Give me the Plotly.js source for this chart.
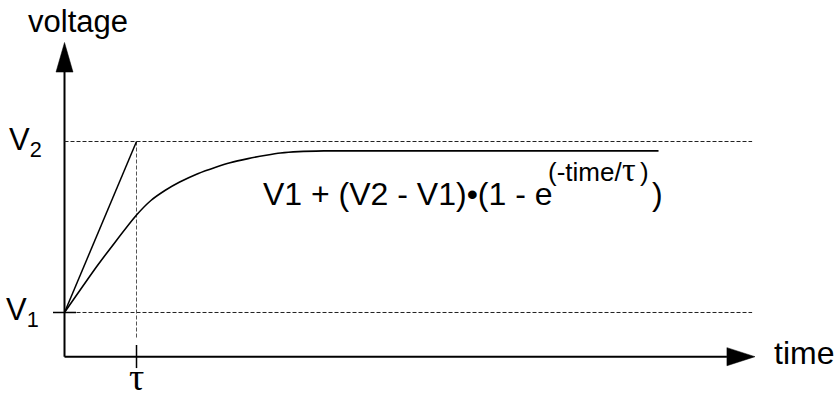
<!DOCTYPE html>
<html>
<head>
<meta charset="utf-8">
<script src="https://cdn.plot.ly/plotly-3.0.1.min.js"></script>
<style>
  html, body { margin: 0; padding: 0; background: #fff; }
  #chart { width: 836px; height: 397px; }
</style>
</head>
<body>
<div id="chart"></div>
<script>
// Time in units of tau, voltage normalised so V1 = 1 and V2 = 2.
const V1 = 1;
const V2 = 2;
const TAU = 1;

// Charging curve, read point by point.
const curveTime    = [0, 0.45, 0.70, 1.00, 1.20, 1.40, 1.60, 1.85, 2.10, 2.30, 2.55, 2.80, 3.00, 3.25, 3.60, 8.25];
const curveVoltage = [1, 1.27, 1.41, 1.57, 1.655, 1.715, 1.763, 1.812, 1.85, 1.876, 1.90, 1.92, 1.933, 1.941, 1.945, 1.945];

// Initial-slope tangent: reaches V2 at t = tau.
const tangentTime    = [0, TAU];
const tangentVoltage = [V1, V2];

// Drawing frame (data units).
const X_MIN = -0.896, X_MAX = 10.715;
const Y_MIN = 0.5058, Y_MAX = 2.8275;
const AXIS_V = 0.7415;        // level of the time axis
const AXIS_T_END = 9.20;      // start of the time arrowhead
const AXIS_T_TIP = 9.59;
const AXIS_V_END = 2.406;     // start of the voltage arrowhead
const AXIS_V_TIP = 2.579;
const GUIDE_END = 9.55;

const FONT = "Liberation Sans, Arial, Helvetica, sans-serif";
const SERIF = "Liberation Serif, DejaVu Serif, serif";
const black = "#000";

const traces = [
  // time axis
  { x: [0, AXIS_T_END], y: [AXIS_V, AXIS_V], mode: "lines",
    line: { color: black, width: 2 } },
  // voltage axis
  { x: [0, 0], y: [AXIS_V, AXIS_V_END], mode: "lines",
    line: { color: black, width: 2 } },
  // arrowheads
  { x: [AXIS_T_END, AXIS_T_TIP, AXIS_T_END, AXIS_T_END],
    y: [AXIS_V + 0.053, AXIS_V, AXIS_V - 0.053, AXIS_V + 0.053],
    mode: "lines", fill: "toself", fillcolor: black, line: { color: black, width: 0.5 } },
  { x: [-0.118, 0, 0.118, -0.118],
    y: [AXIS_V_END, AXIS_V_TIP, AXIS_V_END, AXIS_V_END],
    mode: "lines", fill: "toself", fillcolor: black, line: { color: black, width: 0.5 } },
  // V1 / V2 guide lines
  { x: [0, GUIDE_END], y: [V1, V1], mode: "lines",
    line: { color: "#222", width: 1, dash: "4px,2px" } },
  { x: [0, GUIDE_END], y: [V2, V2], mode: "lines",
    line: { color: "#222", width: 1, dash: "4px,2px" } },
  // tau guide
  { x: [TAU, TAU], y: [V2, 0.851], mode: "lines",
    line: { color: "#555", width: 1, dash: "4px,2px" } },
  // ticks
  { x: [-0.16, 0.16], y: [V1, V1], mode: "lines",
    line: { color: black, width: 1.5 } },
  { x: [TAU, TAU], y: [0.81, 0.675], mode: "lines",
    line: { color: black, width: 1.5 } },
  // tangent
  { x: tangentTime, y: tangentVoltage, mode: "lines",
    line: { color: black, width: 1.5 } },
  // charging curve
  { x: curveTime, y: curveVoltage, mode: "lines",
    line: { color: black, width: 1.6, shape: "spline", smoothing: 0.6 } }
];

const ann = (text, x, y, size, xanchor, yanchor, family) => ({
  text, x, y, xref: "x", yref: "y", showarrow: false,
  xanchor, yanchor, font: { family: family || FONT, size, color: black }
});

// Formula pieces: body, raised exponent, closing bracket.
const EQ_V = 1.695, SUP_V = 1.82;

const layout = {
  width: 836, height: 397,
  margin: { l: 0, r: 0, t: 0, b: 0 },
  paper_bgcolor: "#fff", plot_bgcolor: "#fff",
  showlegend: false,
  xaxis: { range: [X_MIN, X_MAX], visible: false, fixedrange: true },
  yaxis: { range: [Y_MIN, Y_MAX], visible: false, fixedrange: true },
  annotations: [
    ann("voltage", 0.19, 2.70, 31, "center", "middle"),
    ann("time", 9.82, 0.765, 32, "left", "middle"),
    ann("V<sub>2</sub>", -0.29, V2, 31, "right", "middle"),
    ann("V<sub>1</sub>", -0.33, V1, 31, "right", "middle"),
    ann("τ", TAU, 0.62, 38, "center", "middle", SERIF),
    ann("V1 + (V2 - V1)•(1 - e", 2.73, EQ_V, 32, "left", "middle"),
    ann("(-time/", 6.69, SUP_V, 26, "left", "middle"),
    ann("τ", 7.71, SUP_V + 0.015, 34, "left", "middle", SERIF),
    ann(")", 7.97, SUP_V, 26, "left", "middle"),
    ann(")", 8.13, EQ_V, 32, "left", "middle")
  ]
};

Plotly.newPlot("chart", traces, layout, { staticPlot: true, displayModeBar: false });
</script>
</body>
</html>
